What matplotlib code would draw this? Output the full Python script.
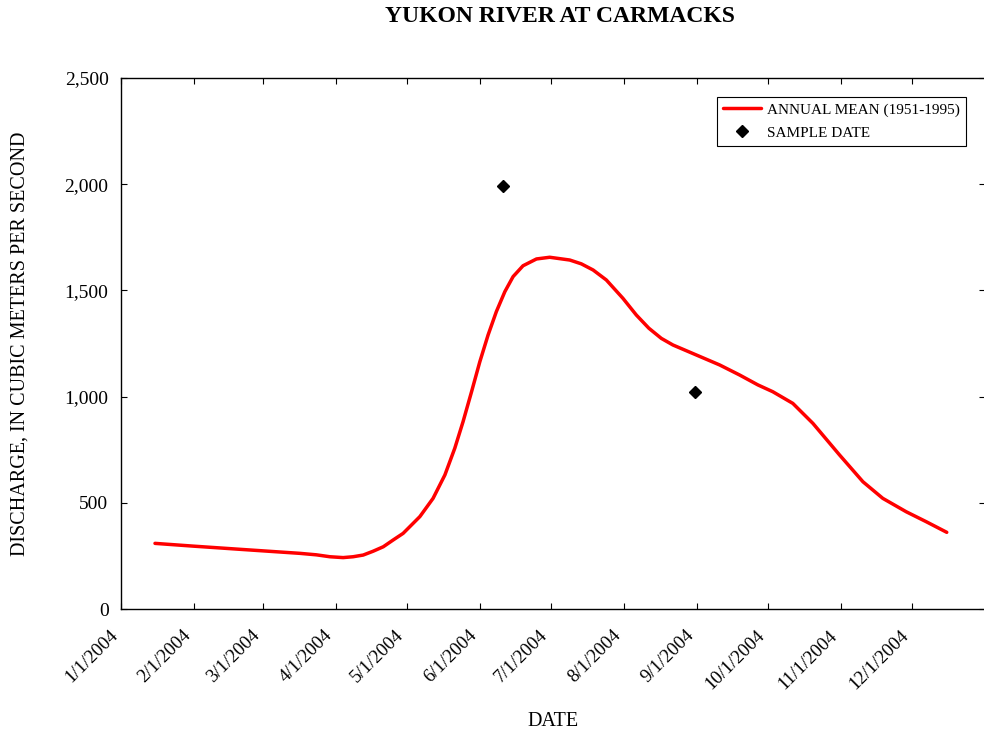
import numpy as np
import pandas as pd
import matplotlib
matplotlib.use('Agg')
from matplotlib import pyplot as plt
import matplotlib.transforms as mtransforms

plt.rcParams['font.family'] = ['Liberation Serif', 'DejaVu Serif']

# annual mean discharge (1951-1995)
# position given as days after 1/1/2004
mean_days = [14.4, 30.6, 50.4, 75.8, 82.8, 88.5, 94.1, 98.3, 102.6, 106.8,
             111.1, 115.3, 119.5, 126.6, 132.2, 137.2, 141.4, 144.9, 148.5, 152.0,
             155.5, 159.0, 162.6, 166.1, 170.3, 176.0, 181.6, 190.1, 195.0, 200.0,
             205.6, 212.6, 218.3, 223.6, 228.9, 233.8, 243.7, 253.6, 262.0, 269.8,
             276.1, 284.6, 293.1, 304.4, 314.3, 322.7, 332.6, 341.1, 349.8]
mean_values = [309, 296, 281, 262, 255, 246, 242, 246, 254, 272,
               293, 325, 356, 435, 521, 631, 757, 882, 1023, 1164,
               1290, 1400, 1494, 1565, 1616, 1648, 1656, 1643, 1625, 1596,
               1549, 1463, 1384, 1322, 1274, 1243, 1196, 1149, 1102, 1055,
               1023, 968, 874, 725, 599, 521, 458, 411, 361]

# sample dates
sample_dates = ['2004-06-11', '2004-08-31']
sample_values = [1990, 1020]

start = pd.Timestamp('2004-01-01')
mean_dates = start + pd.to_timedelta(mean_days, unit='D')
tick_dates = pd.date_range('2004-01-01', '2004-12-01', freq='MS')

fig = plt.figure(figsize=(9.84, 7.38), dpi=100)
ax = fig.add_axes([121/984, 1 - 609/738, (985 - 121)/984, (609 - 78)/738])

ax.plot(mean_dates, mean_values, color='#ff0000', lw=2.5,
        label='ANNUAL MEAN (1951-1995)', solid_capstyle='round', solid_joinstyle='round')
ax.plot(pd.to_datetime(sample_dates), sample_values, ls='none', marker='D',
        ms=6.5, color='black', label='SAMPLE DATE')

ax.set_xlim(start, pd.Timestamp('2005-01-01'))
ax.set_ylim(0, 2500)
ax.set_xticks(tick_dates)
ax.set_xticklabels([f'{d.month}/{d.day}/{d.year}' for d in tick_dates],
                   rotation=45, ha='right', va='top', rotation_mode='anchor', fontsize=13.5)
ax.set_yticks(range(0, 2501, 500))
ax.set_yticklabels([f'{v:,}' for v in range(0, 2501, 500)], fontsize=14)
ax.tick_params(direction='in', top=True, right=True, length=4, width=0.8)
ax.tick_params(axis='y', pad=9)
ax.tick_params(axis='x', pad=13)
# nudge the rotated date labels left so they end just before their tick
shift = mtransforms.ScaledTranslation(-12/100, 0, fig.dpi_scale_trans)
for lbl in ax.get_xticklabels():
    lbl.set_transform(lbl.get_transform() + shift)
for s in ax.spines.values():
    s.set_linewidth(1.0)

fig.text(559.5/984, 1 - 17/738, 'YUKON RIVER AT CARMACKS', ha='center', va='center',
         fontsize=17, fontweight='bold')
fig.text(553/984, 1 - 722/738, 'DATE', ha='center', va='center', fontsize=14.5)
fig.text(20/984, 1 - 344/738, 'DISCHARGE, IN CUBIC METERS PER SECOND', rotation=90,
         ha='center', va='center', fontsize=14.5)

leg = ax.legend(loc='upper right', bbox_to_anchor=(966/984, 1 - 97/738),
                bbox_transform=fig.transFigure, fontsize=11, frameon=True,
                fancybox=False, framealpha=1, edgecolor='black', borderaxespad=0,
                handlelength=2.5, handletextpad=0.4, borderpad=0.4, labelspacing=0.6)
leg.get_frame().set_linewidth(0.8)

fig.savefig('out.png', dpi=100)
